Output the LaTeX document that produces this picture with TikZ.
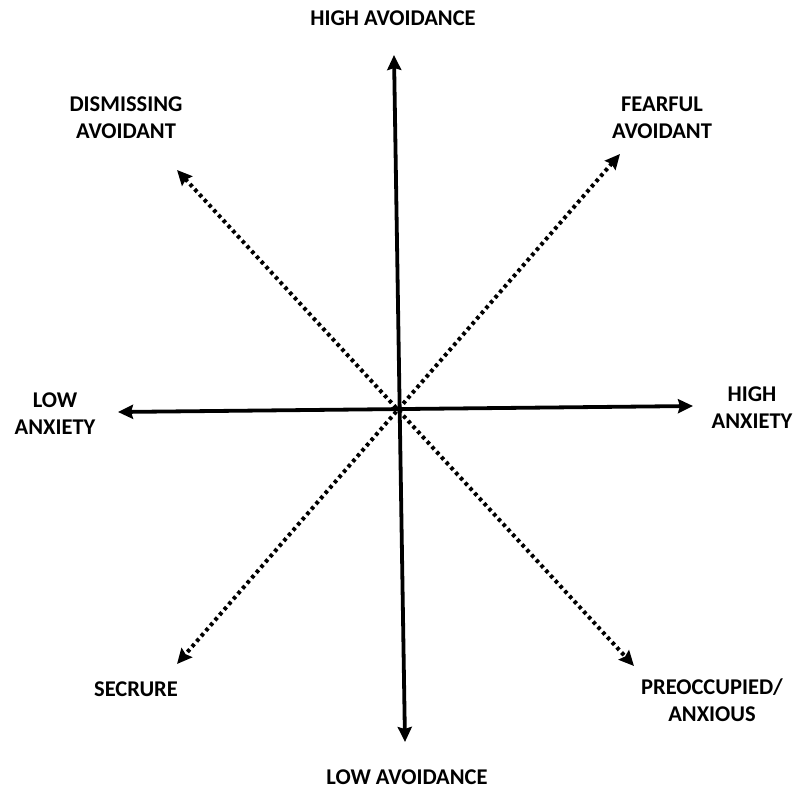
\documentclass[tikz,border=0pt]{standalone}
\usepackage{fontspec}
\setmainfont{Carlito}
\usetikzlibrary{arrows.meta}
\begin{document}
\begin{tikzpicture}[x=1pt,y=-1pt,
  tip/.style={},
  axis/.style={line width=3.8pt,{Stealth[length=15pt,width=14pt,inset=2pt]}-{Stealth[length=15pt,width=14pt,inset=2pt]}},
  diag/.style={line width=4pt,dash pattern=on 3.5pt off 3.5pt,{Stealth[length=15pt,width=14pt,inset=2pt]}-{Stealth[length=15pt,width=14pt,inset=2pt]}},
  lbl/.style={font=\fontsize{22.5}{27}\selectfont\bfseries,align=center,inner sep=0pt}]
\useasboundingbox (0,0) rectangle (795,789);
\coordinate (T) at (394,55);
\coordinate (B) at (405,742);
\coordinate (L) at (118,412);
\coordinate (R) at (693,406);
\coordinate (NW) at (177,170);
\coordinate (SE) at (634,666);
\coordinate (NE) at (620,154);
\coordinate (SW) at (177,664);
\draw[axis] (T) -- (B);
\draw[axis] (L) -- (R);
\draw[diag] (NW) -- (SE);
\draw[diag] (NE) -- (SW);
\node[lbl] (ha) at (393,18) {HIGH AVOIDANCE};
\node[lbl] (la) at (407,777) {LOW AVOIDANCE};
\node[lbl] (da) at (126,118) {DISMISSING\\AVOIDANT};
\node[lbl] (fa) at (662,118) {FEARFUL\\AVOIDANT};
\node[lbl] (lx) at (55,414) {LOW\\ANXIETY};
\node[lbl] (hx) at (752,408) {HIGH\\ANXIETY};
\node[lbl] (sc) at (136,689) {SECRURE};
\node[lbl] (pa) at (712,700) {PREOCCUPIED/\\ANXIOUS};
\end{tikzpicture}
\end{document}
